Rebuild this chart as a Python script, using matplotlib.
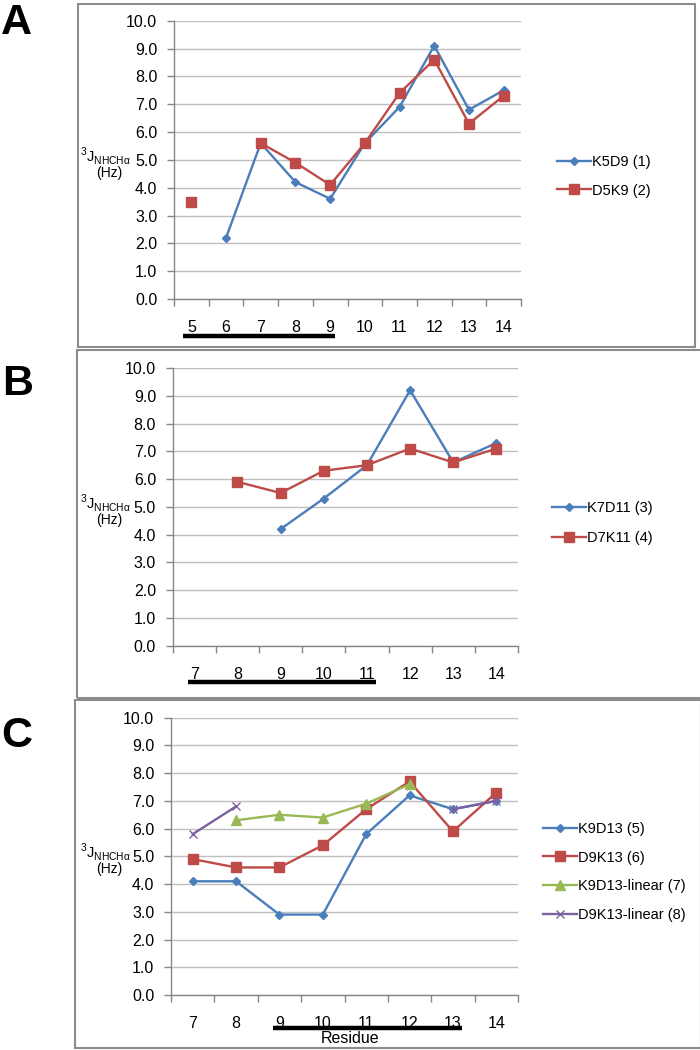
import numpy as np
import matplotlib
matplotlib.use("Agg")
import matplotlib.pyplot as plt
import matplotlib.transforms as mtrans
from matplotlib.patches import Rectangle
from matplotlib.lines import Line2D

plt.rcParams['font.family'] = ['Liberation Sans', 'DejaVu Sans']
plt.rcParams['mathtext.fontset'] = 'custom'
plt.rcParams['mathtext.rm'] = 'Liberation Sans'

nan = np.nan

# =============================================================================
# data
# =============================================================================

res_a   = ["5", "6", "7", "8", "9", "10", "11", "12", "13", "14"]
k5d9    = [nan, 2.2, 5.6, 4.2, 3.6, 5.6, 6.9, 9.1, 6.8, 7.5]
d5k9    = [3.5, nan, 5.6, 4.9, 4.1, 5.6, 7.4, 8.6, 6.3, 7.3]

res_b   = ["7", "8", "9", "10", "11", "12", "13", "14"]
k7d11   = [nan, nan, 4.2, 5.3, 6.5, 9.2, 6.6, 7.3]
d7k11   = [nan, 5.9, 5.5, 6.3, 6.5, 7.1, 6.6, 7.1]

res_c   = ["7", "8", "9", "10", "11", "12", "13", "14"]
k9d13   = [4.1, 4.1, 2.9, 2.9, 5.8, 7.2, 6.7, 7.0]
d9k13   = [4.9, 4.6, 4.6, 5.4, 6.7, 7.7, 5.9, 7.3]
k9d13_l = [nan, 6.3, 6.5, 6.4, 6.9, 7.6, nan, nan]
d9k13_l = [5.8, 6.8, nan, nan, nan, nan, 6.7, 7.0]

# =============================================================================
# style
# =============================================================================

W, H        = 700, 1050
blue        = '#4A7EBB'
red         = '#BE4B48'
green       = '#98B954'
purple      = '#7D60A0'
gridc       = '#BFBFBF'
axc         = '#868686'
framec      = '#8C8C8C'

styles = {
    'blue':   dict(color=blue, marker='D', markersize=4.5, lw=1.7),
    'red':    dict(color=red, marker='s', markersize=6.8, lw=1.7),
    'green':  dict(color=green, marker='^', markersize=7, lw=1.7),
    'purple': dict(color=purple, marker='x', markersize=6, mew=1.0, lw=1.7),
}

fig = plt.figure(figsize=(7, 10.5), dpi=100)
fig.patch.set_facecolor('white')


def add_axes(l, t, r, b):
    return fig.add_axes([l / W, 1 - b / H, (r - l) / W, (b - t) / H])


def setup(ax, cats):
    n = len(cats)
    ax.set_xlim(-0.5, n - 0.5)
    ax.set_ylim(0, 10)
    ax.set_yticks(np.arange(0, 10.1, 1.0))
    ax.set_yticklabels(["%.1f" % v for v in np.arange(0, 10.1, 1.0)])
    ax.set_xticks(np.arange(n))
    ax.set_xticklabels(cats)
    ax.set_xticks(np.arange(n + 1) - 0.5, minor=True)
    ax.tick_params(axis='x', which='major', length=0, pad=15, labelsize=11.5)
    ax.tick_params(axis='x', which='minor', length=5, width=1, color=axc,
                   direction='out')
    ax.tick_params(axis='y', length=5, width=1, color=axc, pad=7,
                   labelsize=11.5)
    ax.yaxis.grid(True, color=gridc, lw=1.0)
    ax.set_axisbelow(True)
    for s in ['top', 'right']:
        ax.spines[s].set_visible(False)
    for s in ['left', 'bottom']:
        ax.spines[s].set_color(axc)
        ax.spines[s].set_linewidth(1.0)
    # y label
    tr = mtrans.blended_transform_factory(fig.transFigure, ax.transData)
    ax.text(105 / W, 5.15, r'$^{\mathregular{3}}$J$_{\mathregular{NHCHα}}$',
            transform=tr, ha='center', va='center', fontsize=10.5)
    ax.text(109 / W, 4.53, "(Hz)", transform=tr, ha='center', va='center',
            fontsize=10)


def underline(ax, x0, x1, yfrac):
    tr = mtrans.blended_transform_factory(ax.transData, ax.transAxes)
    ax.add_line(Line2D([x0, x1], [yfrac, yfrac], transform=tr, color='black',
                       lw=3.2, clip_on=False, solid_capstyle='butt'))


def frame(l, t, r, b):
    fig.add_artist(Rectangle((l / W, 1 - b / H), (r - l) / W, (b - t) / H,
                             transform=fig.transFigure, fill=False,
                             edgecolor=framec, lw=1.5))


def letter(s, x, y):
    fig.text(x / W, 1 - y / H, s, fontsize=31, fontweight='bold',
             ha='left', va='baseline')


def legend(ax, x, y, spacing):
    fig.legend(*ax.get_legend_handles_labels(), loc='upper left',
               bbox_to_anchor=(x / W, 1 - y / H), frameon=False,
               borderpad=0, borderaxespad=0, handlelength=2.3,
               handletextpad=0.1, labelspacing=spacing, fontsize=10.5)


# =============================================================================
# panel A
# =============================================================================

frame(78, 4, 695, 347)
ax = add_axes(174, 20.7, 521, 299)
setup(ax, res_a)
xa = np.arange(len(res_a))
ax.plot(xa, k5d9, label="K5D9 (1)", clip_on=False, **styles['blue'])
ax.plot(xa, d5k9, label="D5K9 (2)", clip_on=False, **styles['red'])
underline(ax, -0.24, 4.14, -0.133)
legend(ax, 557, 155, 1.0)
letter("A", 1, 34)

# =============================================================================
# panel B
# =============================================================================

frame(77, 349.5, 701, 698)
ax = add_axes(172.7, 368, 518, 645.7)
setup(ax, res_b)
xb = np.arange(len(res_b))
ax.plot(xb, k7d11, label="K7D11 (3)", clip_on=False, **styles['blue'])
ax.plot(xb, d7k11, label="D7K11 (4)", clip_on=False, **styles['red'])
underline(ax, -0.14, 4.2, -0.13)
legend(ax, 552, 501, 1.07)
letter("B", 2, 395)

# =============================================================================
# panel C
# =============================================================================

frame(75, 699.5, 701, 1048)
ax = add_axes(171, 717.7, 518, 995)
setup(ax, res_c)
xc = np.arange(len(res_c))
ax.plot(xc, k9d13, label="K9D13 (5)", clip_on=False, **styles['blue'])
ax.plot(xc, d9k13, label="D9K13 (6)", clip_on=False, **styles['red'])
ax.plot(xc, k9d13_l, label="K9D13-linear (7)", clip_on=False, **styles['green'])
ax.plot(xc, d9k13_l, label="D9K13-linear (8)", clip_on=False, **styles['purple'])
underline(ax, 1.86, 6.22, -0.12)
ax.text(3.62, -0.158, "Residue", transform=mtrans.blended_transform_factory(
        ax.transData, ax.transAxes), ha='center', va='center', fontsize=11.5)
legend(ax, 543, 822, 1.0)
letter("C", 1, 747)

plt.savefig("out.png", dpi=100, facecolor='white')
